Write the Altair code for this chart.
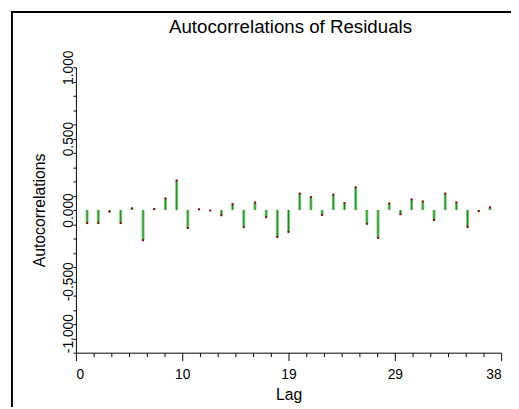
import altair as alt
import pandas as pd

# ---- data ----
lags = list(range(1, 38))
acf = [-0.092, -0.092, -0.012, -0.092, 0.012, -0.212, 0.007, 0.081, 0.207, -0.127,
       0.005, -0.004, -0.037, 0.041, -0.120, 0.053, -0.051, -0.189, -0.154, 0.115,
       0.090, -0.035, 0.108, 0.048, 0.159, -0.097, -0.196, 0.046, -0.030, 0.074,
       0.060, -0.071, 0.115, 0.053, -0.120, -0.009, 0.019]

x_ticks = [i * 38 / 24 for i in range(25)]
x_major = [0, 9.5, 19, 28.5, 38]
y_ticks = [round(-1 + 0.1 * i, 1) for i in range(21)]

title_text = "Autocorrelations of Residuals"
x_title = "Lag"
y_title = "Autocorrelations"

FONT = "Liberation Sans"

df = pd.DataFrame({"Lag": lags, "ACF": acf, "Zero": [0.0] * len(lags)})

xscale = alt.Scale(domain=[0, 38], nice=False, zero=False)
yscale = alt.Scale(domain=[-1, 1], nice=False)

xmaj = "indexof(" + str(x_major) + ", datum.value) >= 0"
ymaj = "abs(datum.value * 2 - round(datum.value * 2)) < 0.001"

x_axis = alt.Axis(
    values=x_ticks,
    tickCount=100,
    labelExpr=xmaj + " ? format(datum.value, 'd') : ''",
    labelOverlap=False,
    labelFontSize=14,
    labelPadding=7,
    tickSize={"condition": {"test": xmaj, "value": 8}, "value": 4},
    title=x_title,
    titleFontSize=16,
    titleX=216,
    titleY=48,
    titleBaseline="alphabetic",
    titleAlign="center",
)

y_axis = alt.Axis(
    values=y_ticks,
    tickCount=100,
    labelExpr=ymaj + " ? ((datum.value < 0 ? '-' : '') + format(abs(datum.value), '.3f')) : ''",
    labelOverlap=False,
    labelAngle=270,
    labelFontSize=14,
    labelBaseline="alphabetic",
    labelAlign={"condition": {"test": "datum.value <= -0.999", "value": "left"}, "value": "center"},
    labelPadding=0,
    tickSize=3,
    title=y_title,
    titleFontSize=16,
    titleAngle=270,
    titleX=-32,
    titleY=145,
    titleBaseline="alphabetic",
    titleAlign="center",
)

base = alt.Chart(df)

bars_light = base.mark_rule(color="#80c480", strokeWidth=3).encode(
    x=alt.X("Lag:Q", scale=xscale, axis=x_axis),
    y=alt.Y("ACF:Q", scale=yscale, axis=y_axis),
    y2="Zero:Q",
)
bars_dark = base.mark_rule(color="#138a13", strokeWidth=1).encode(
    x=alt.X("Lag:Q", scale=xscale),
    y=alt.Y("ACF:Q", scale=yscale),
    y2="Zero:Q",
)
tips = base.mark_point(shape="square", filled=True, size=4, color="#8b0000", opacity=1).encode(
    x=alt.X("Lag:Q", scale=xscale),
    y=alt.Y("ACF:Q", scale=yscale),
)

one = pd.DataFrame({"t": [title_text]})
title_mark = alt.Chart(one).mark_text(
    font=FONT, fontSize=19, align="center", baseline="alphabetic", color="black"
).encode(text="t:N", x=alt.value(218), y=alt.value(-35))

frame_left = alt.Chart(one).mark_rule(color="black", strokeWidth=2).encode(
    x=alt.value(-65), y=alt.value(-57), y2=alt.value(400)
)
frame_top = alt.Chart(one).mark_rule(color="black", strokeWidth=2).encode(
    x=alt.value(-66), x2=alt.value(460), y=alt.value(-56)
)

chart = alt.layer(bars_light, bars_dark, tips, title_mark, frame_left, frame_top).properties(
    width=432,
    height=290,
    autosize=alt.AutoSizeParams(type="none"),
    padding={"left": 69, "top": 57, "right": 10, "bottom": 52},
).configure_view(strokeWidth=0).configure_axis(
    grid=False,
    domainColor="black",
    domainWidth=1,
    tickColor="black",
    tickWidth=1,
    labelColor="black",
    titleColor="black",
    labelFont=FONT,
    titleFont=FONT,
    titleFontWeight="normal",
)

chart.save("out.html", embed_options={"renderer": "svg", "actions": False})
